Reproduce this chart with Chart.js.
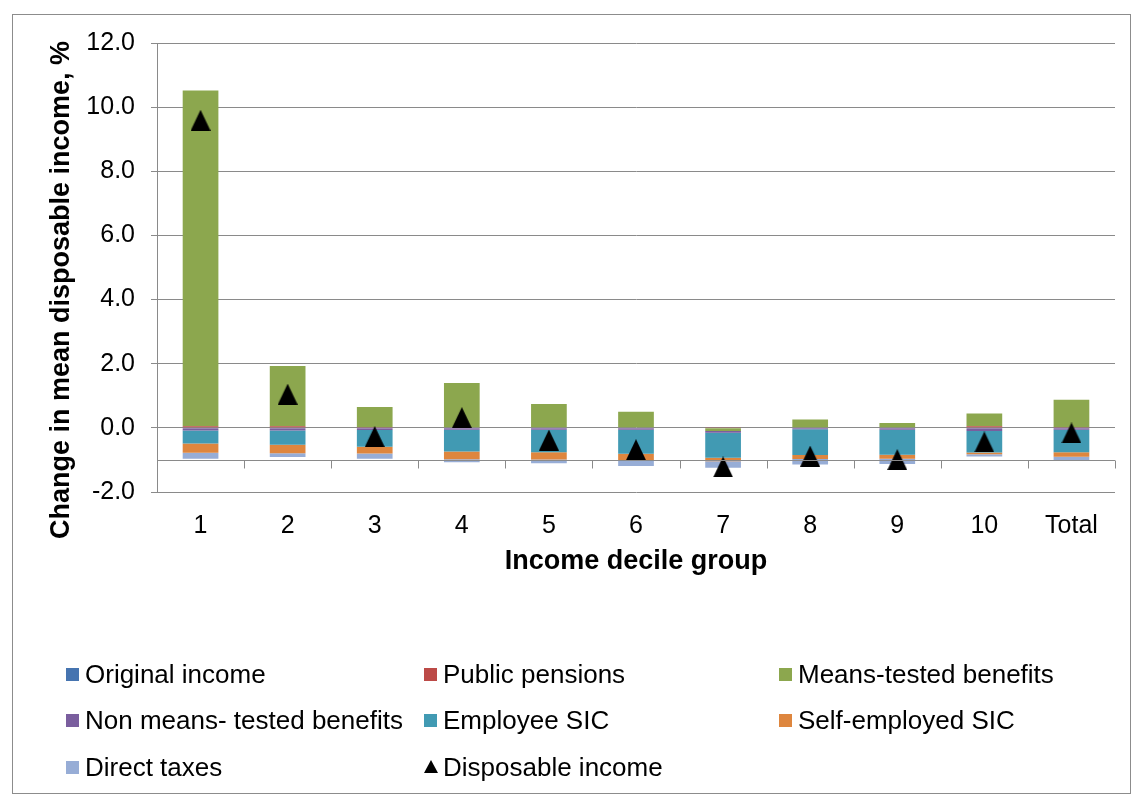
<!DOCTYPE html>
<html>
<head>
<meta charset="utf-8">
<title>Change in mean disposable income by income decile group</title>
<script src="https://cdn.jsdelivr.net/npm/chart.js@4.4.0/dist/chart.umd.min.js"></script>
<style>
   body { margin: 0; background: #fff; }
   #wrap { position: relative; width: 1137px; height: 795px; font-family: "Liberation Sans", Arial, sans-serif; }
   #frame { position: absolute; left: 12px; top: 14px; width: 1119px; height: 780px; border: 1px solid #8c8c8c; box-sizing: border-box; }
   #chart { position: absolute; left: 0; top: 0; }
   .item { position: absolute; font-size: 26px; line-height: 30px; color: #000; white-space: nowrap; }
   .swatch { position: absolute; left: 0; top: 9px; width: 13px; height: 13px; }
   .tri { position: absolute; left: 0; top: 8px; width: 0; height: 0;
          border-left: 7px solid transparent; border-right: 7px solid transparent; border-bottom: 13px solid #000; }
   .item span.txt { position: absolute; left: 19px; top: 0; }
</style>
</head>
<body>
<div id="wrap">
   <div id="frame"></div>
   <canvas id="chart" width="1137" height="795"></canvas>
   <div id="legend"></div>
</div>
<script>
'use strict';

/***** DATA *****/
var deciles = ['1', '2', '3', '4', '5', '6', '7', '8', '9', '10', 'Total'];

// contribution of each income component to the change, % points
var originalIncome     = [0.00, 0.00, 0.00, 0.00, 0.00, 0.00, 0.00, 0.00, 0.00, 0.00, 0.00];
var publicPensions     = [0.05, 0.05, 0.03, 0.02, 0.02, 0.02, 0.03, 0.02, 0.02, 0.05, 0.03];
var meansTested        = [10.47, 1.88, 0.62, 1.38, 0.72, 0.48, -0.10, 0.24, 0.13, 0.40, 0.85];
var nonMeansTested     = [-0.08, -0.08, -0.07, -0.06, -0.06, -0.06, -0.05, -0.04, -0.06, -0.10, -0.06];
var employeeSIC        = [-0.41, -0.45, -0.52, -0.68, -0.70, -0.75, -0.78, -0.81, -0.78, -0.67, -0.70];
var selfEmployedSIC    = [-0.29, -0.26, -0.21, -0.24, -0.23, -0.19, -0.11, -0.12, -0.12, -0.05, -0.14];
var directTaxes        = [-0.18, -0.12, -0.16, -0.09, -0.11, -0.19, -0.20, -0.17, -0.17, -0.07, -0.13];
var disposableIncome   = [9.59, 1.05, -0.27, 0.32, -0.38, -0.68, -1.22, -0.88, -0.99, -0.44, -0.16];

var yTicks = [-2, 0, 2, 4, 6, 8, 10, 12];

var components = [
   { label: 'Original income',             data: originalIncome,  color: '#4674B0' },
   { label: 'Public pensions',             data: publicPensions,  color: '#BC4A47' },
   { label: 'Means-tested benefits',       data: meansTested,     color: '#8CA74E' },
   { label: 'Non means- tested benefits',  data: nonMeansTested,  color: '#7A5E9E' },
   { label: 'Employee SIC',                data: employeeSIC,     color: '#419AB3' },
   { label: 'Self-employed SIC',           data: selfEmployedSIC, color: '#DE863E' },
   { label: 'Direct taxes',                data: directTaxes,     color: '#97ADD6' }
];

var FONT = '"Liberation Sans", Arial, sans-serif';
var GRID = '#8a8a8a';

/***** MARKER *****/
function triangleMarker (w, h) {
   var c = document.createElement('canvas');
   c.width = w; c.height = h;
   var ctx = c.getContext('2d');
   ctx.fillStyle = '#000';
   ctx.beginPath();
   ctx.moveTo(w / 2, 0);
   ctx.lineTo(w, h);
   ctx.lineTo(0, h);
   ctx.closePath();
   ctx.fill();
   return c;
}

/***** PLUGINS *****/
// horizontal axis crosses the value axis at -1, with tick marks between categories
var crossingAxis = {
   id: 'crossingAxis',
   afterDatasetsDraw: function (chart) {
      var ctx = chart.ctx, x = chart.scales.x, y = chart.scales.y;
      var yy = Math.round(y.getPixelForValue(-1)) + 0.5;
      var step = x.getPixelForTick(1) - x.getPixelForTick(0);
      ctx.save();
      ctx.strokeStyle = GRID;
      ctx.lineWidth = 1;
      ctx.beginPath();
      ctx.moveTo(chart.chartArea.left, yy);
      ctx.lineTo(chart.chartArea.right, yy);
      for (var i = 0; i <= deciles.length; i++) {
         var xx = Math.round(x.getPixelForTick(0) - step / 2 + i * step) + 0.5;
         ctx.moveTo(xx, yy);
         ctx.lineTo(xx, yy + 8);
      }
      ctx.stroke();
      ctx.restore();
   }
};

var yTitle = {
   id: 'yTitle',
   afterDraw: function (chart) {
      var ctx = chart.ctx;
      ctx.save();
      ctx.translate(62, 290);
      ctx.rotate(-Math.PI / 2);
      ctx.font = 'bold 27px ' + FONT;
      ctx.fillStyle = '#000';
      ctx.textAlign = 'center';
      ctx.textBaseline = 'middle';
      ctx.fillText('Change in mean disposable income, %', 0, 0);
      ctx.restore();
   }
};

/***** CHART *****/
var datasets = components.map(function (c) {
   return {
      type: 'bar',
      label: c.label,
      data: c.data,
      backgroundColor: c.color,
      borderWidth: 0,
      stack: 'parts',
      categoryPercentage: 1,
      barPercentage: 0.41
   };
});

datasets.push({
   type: 'line',
   label: 'Disposable income',
   data: disposableIncome,
   stack: 'net',
   order: -1,
   showLine: false,
   pointStyle: triangleMarker(20, 21),
   pointRadius: 10,
   pointHoverRadius: 10,
   clip: false
});

var chart = new Chart(document.getElementById('chart'), {
   data: { labels: deciles, datasets: datasets },
   options: {
      responsive: false,
      animation: false,
      events: [],
      layout: { padding: { left: 35, top: 43, right: 22, bottom: 217 } },
      plugins: { legend: { display: false }, tooltip: { enabled: false } },
      scales: {
         x: {
            stacked: true,
            grid: { display: false },
            border: { display: false },
            ticks: { color: '#000', font: { family: FONT, size: 25 }, padding: 11, maxRotation: 0 },
            title: {
               display: true,
               text: 'Income decile group',
               color: '#000',
               font: { family: FONT, size: 27, weight: 'bold' },
               padding: { top: 0, bottom: 0 }
            },
            afterFit: function (scale) { scale.height = 86; }
         },
         y: {
            stacked: true,
            min: -2,
            max: 12,
            afterBuildTicks: function (scale) {
               scale.ticks = yTicks.map(function (v) { return { value: v }; });
            },
            grid: { color: GRID, lineWidth: 1, drawTicks: true, tickLength: 6, tickColor: GRID },
            border: { display: true, color: GRID, width: 1 },
            ticks: {
               color: '#000',
               font: { family: FONT, size: 25 },
               padding: 16,
               callback: function (v) { return Number(v).toFixed(1); }
            },
            afterFit: function (scale) { scale.width = 122; }
         }
      }
   },
   plugins: [crossingAxis, yTitle]
});

/***** LEGEND *****/
(function buildLegend () {
   var legend = document.getElementById('legend');
   var cols = [66, 424, 779];
   var rows = [674, 720, 767];
   var items = components.map(function (c) { return { label: c.label, color: c.color }; });
   items.push({ label: 'Disposable income', marker: 'triangle' });

   items.forEach(function (it, i) {
      var div = document.createElement('div');
      div.className = 'item';
      div.style.left = cols[i % 3] + 'px';
      div.style.top = (rows[Math.floor(i / 3)] - 15) + 'px';
      var mark = document.createElement('span');
      if (it.marker === 'triangle') {
         mark.className = 'tri';
      } else {
         mark.className = 'swatch';
         mark.style.background = it.color;
      }
      var txt = document.createElement('span');
      txt.className = 'txt';
      txt.textContent = it.label;
      div.appendChild(mark);
      div.appendChild(txt);
      legend.appendChild(div);
   });
})();
</script>
</body>
</html>
